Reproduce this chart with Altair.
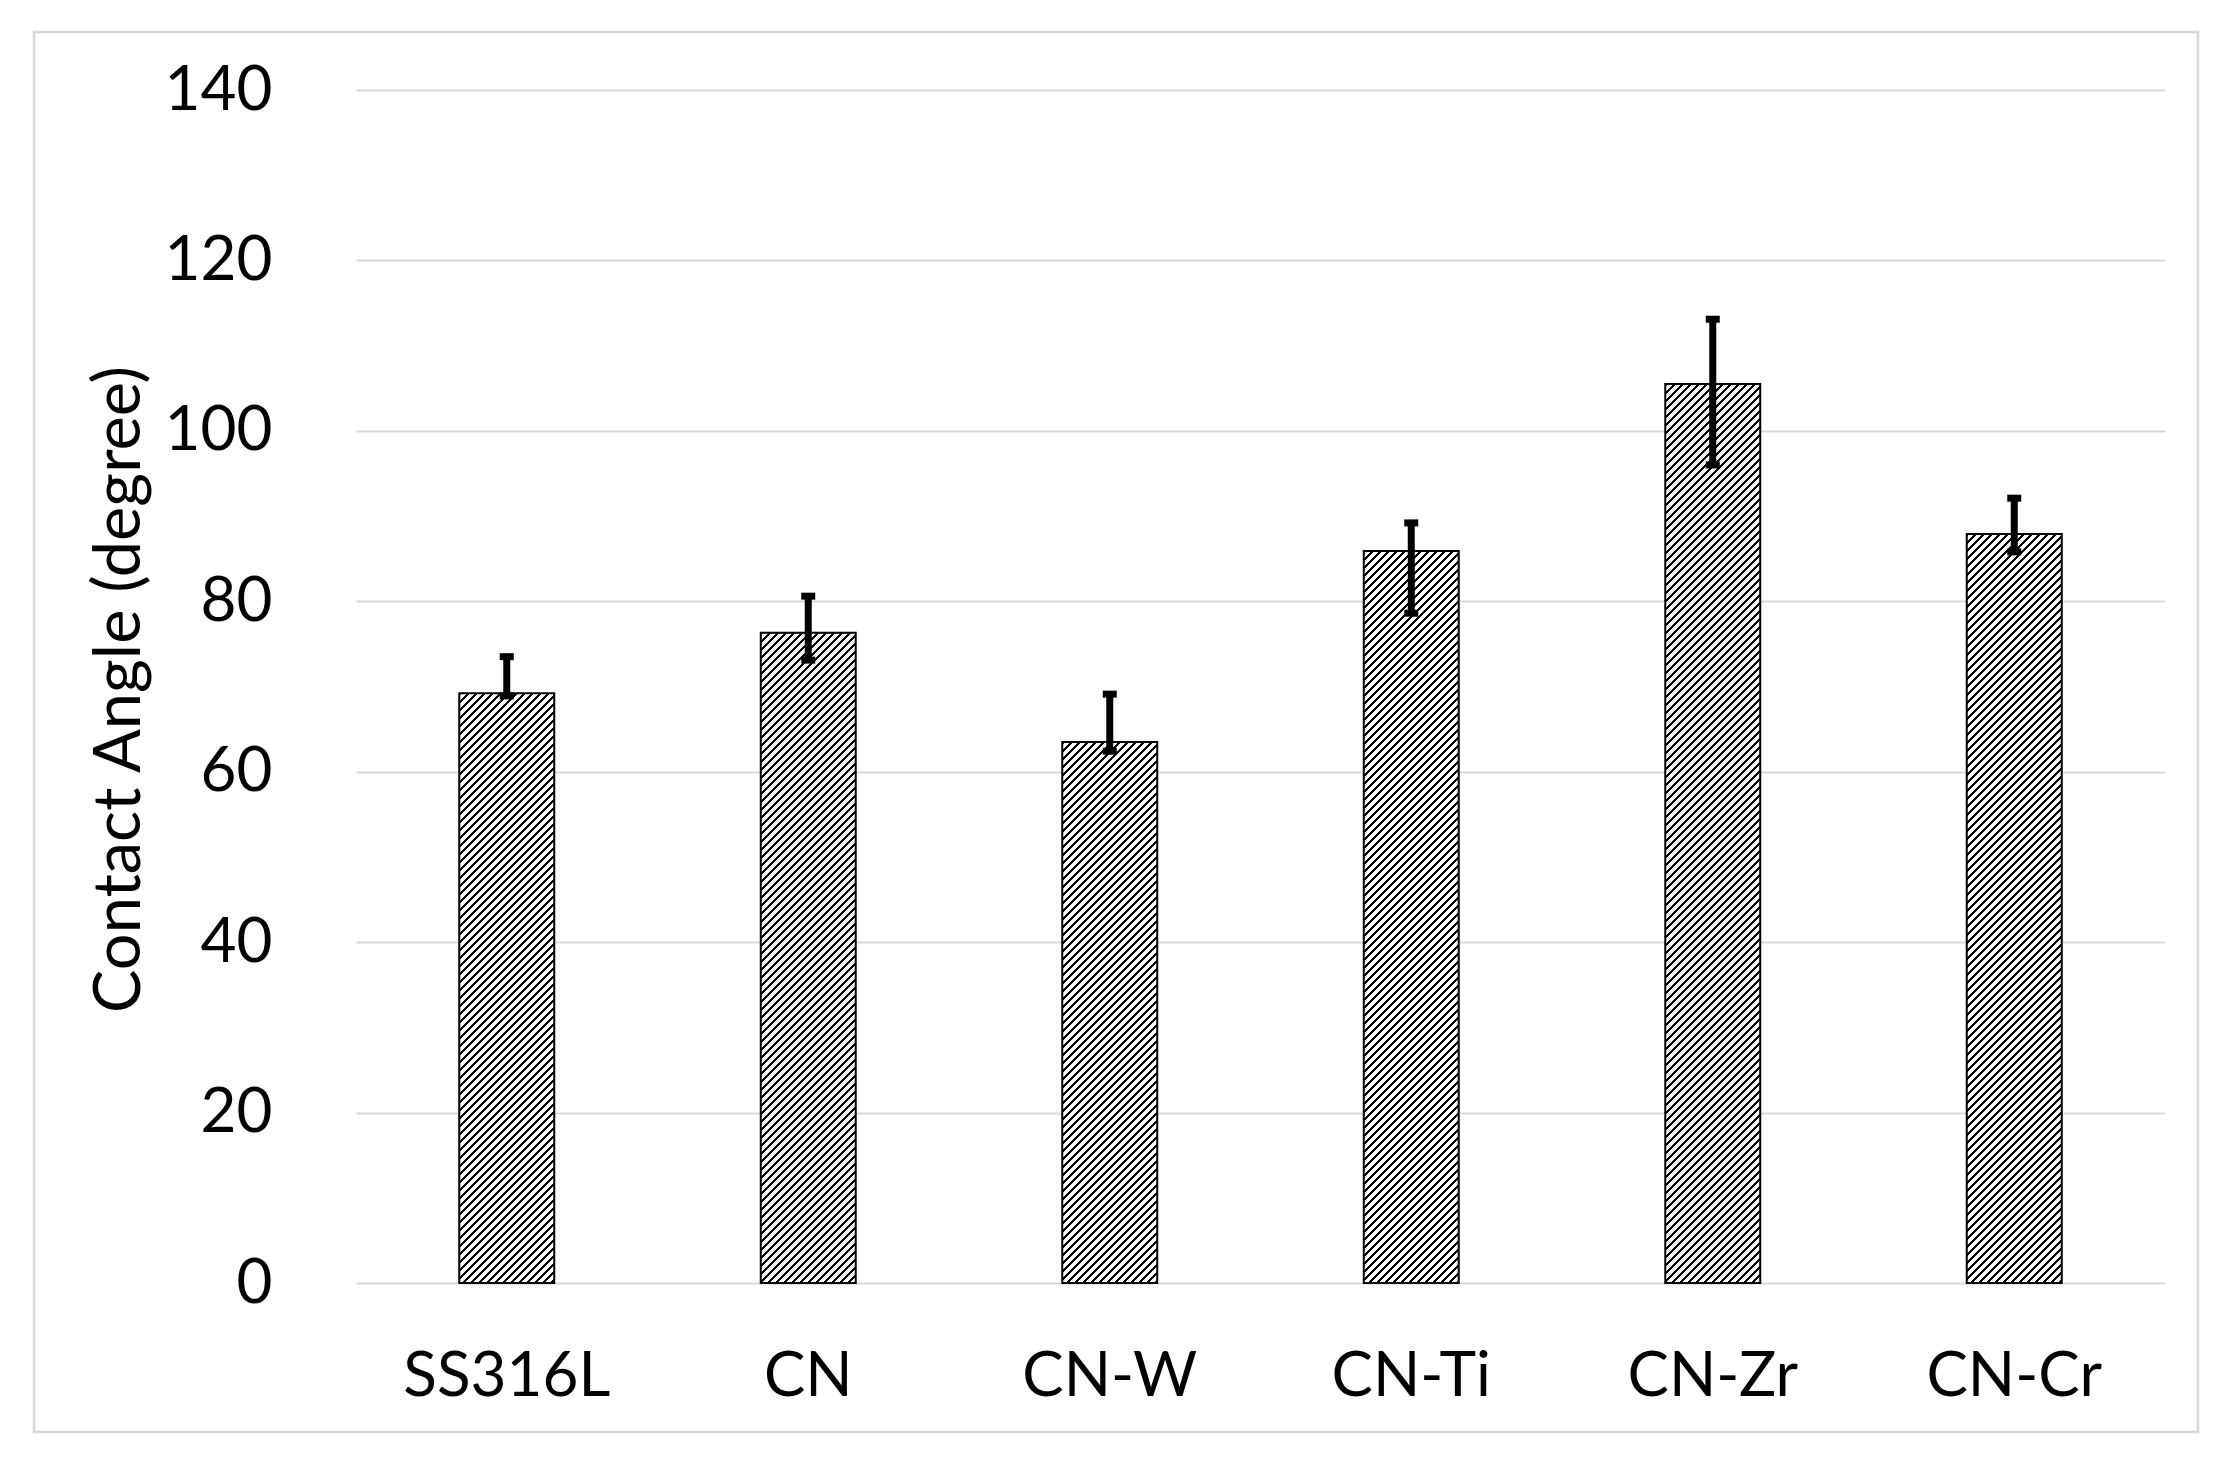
import altair as alt
import pandas as pd

# ---- data ----
categories = ["SS316L", "CN", "CN-W", "CN-Ti", "CN-Zr", "CN-Cr"]
contact_angle = [69.2, 76.3, 63.5, 85.9, 105.5, 87.9]
err_high = [73.5, 80.6, 69.1, 89.2, 113.1, 92.1]
err_low = [68.9, 73.1, 62.4, 78.6, 96.0, 85.8]
y_ticks = [0, 20, 40, 60, 80, 100, 120, 140]
y_title = "Contact Angle (degree)"

df = pd.DataFrame({"cat": categories, "val": contact_angle, "hi": err_high, "lo": err_low})

# ---- layout / style constants ----
PLOT_W, PLOT_H = 1809, 1193
Y_MAX = 140
PAD_INNER = 0.685
BAR_W = PLOT_W / len(categories) * (1 - PAD_INNER)
HATCH = 8.0     # horizontal spacing of hatch lines (px)
DARK = 3.0      # width of hatch line (px, horizontal)
FONT = "Lato"
FS = 62
TITLE_FS = 65


def hatch_fill(value):
    """Diagonal '/' hatch built as a striped linear gradient (bounding-box units)."""
    w = BAR_W
    h = value / Y_MAX * PLOT_H
    L = w + h
    n2 = w * w + h * h
    stops = []
    pos = 0.0
    while pos < L:
        a = round(pos / L, 6)
        b = round(min((pos + DARK) / L, 1.0), 6)
        stops += [
            {"offset": a, "color": "#ffffff"},
            {"offset": a, "color": "#000000"},
            {"offset": b, "color": "#000000"},
            {"offset": b, "color": "#ffffff"},
        ]
        pos += HATCH
    stops.append({"offset": 1.0, "color": "#ffffff"})
    return {
        "gradient": "linear",
        "stops": stops,
        "x1": 0,
        "y1": 0,
        "x2": round(w * L / n2, 6),
        "y2": round(h * L / n2, 6),
    }


x_enc = alt.X(
    "cat:N",
    sort=categories,
    title=None,
    scale=alt.Scale(domain=categories, paddingInner=PAD_INNER, paddingOuter=PAD_INNER / 2),
)
y_scale = alt.Scale(domain=[0, Y_MAX], nice=False, zero=True)
y_axis = alt.Axis(values=y_ticks)

frame = alt.Chart(pd.DataFrame({"f": [0]})).mark_rect(
    filled=False, stroke="#d9d9d9", strokeWidth=2.5
).encode(
    x=alt.value(-322), x2=alt.value(1842), y=alt.value(-58), y2=alt.value(1342)
)

bars = [
    alt.Chart(df)
    .transform_filter(alt.datum.cat == c)
    .mark_bar(fill=hatch_fill(v), stroke="black", strokeWidth=2)
    .encode(x=x_enc, y=alt.Y("val:Q", scale=y_scale, title=y_title, axis=y_axis))
    for c, v in zip(categories, contact_angle)
]

err_rule = alt.Chart(df).mark_rule(strokeWidth=7, color="black").encode(
    x=x_enc,
    y=alt.Y("lo:Q", scale=y_scale, title=y_title, axis=y_axis),
    y2="hi:Q",
)

err_caps = (
    alt.Chart(df)
    .transform_fold(["lo", "hi"], as_=["end", "value"])
    .mark_tick(size=14, thickness=7, color="black", opacity=1)
    .encode(x=x_enc, y=alt.Y("value:Q", scale=y_scale, title=y_title, axis=y_axis))
)

chart = (
    alt.layer(frame, *bars, err_rule, err_caps)
    .properties(
        width=PLOT_W,
        height=PLOT_H,
        autosize=alt.AutoSizeParams(type="none"),
        padding={"left": 348, "top": 82, "right": 50, "bottom": 160},
        background="white",
    )
    .configure_view(stroke="transparent")
    .configure_axis(
        labelFont=FONT,
        titleFont=FONT,
        labelColor="black",
        titleColor="black",
        labelFontSize=FS,
        titleFontSize=TITLE_FS,
        titleFontWeight="normal",
        labelLimit=0,
        titleLimit=0,
        domain=False,
        ticks=False,
        tickSize=0,
    )
    .configure_axisY(
        grid=True,
        gridColor="#d9d9d9",
        gridWidth=2,
        labelPadding=84,
        titleX=-217,
        titleY=599,
        titleAngle=270,
        titleAlign="center",
        titleBaseline="alphabetic",
    )
    .configure_axisX(
        grid=False,
        labelPadding=112,
        labelAngle=0,
        labelBaseline="alphabetic",
    )
)

chart.save("out.html", embed_options={"renderer": "svg", "actions": False})
